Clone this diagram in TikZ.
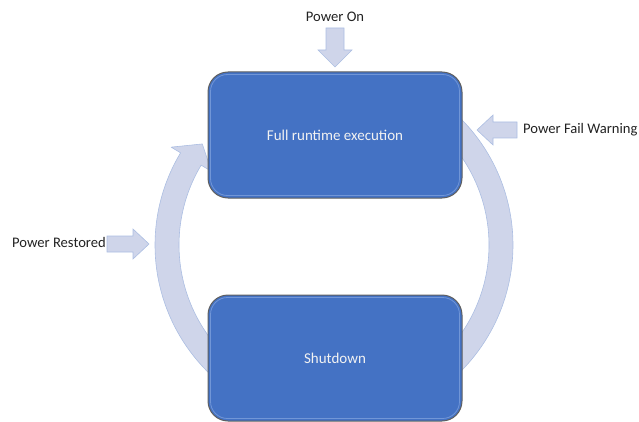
\documentclass[tikz,border=0pt]{standalone}
\usepackage{fontspec}
\setmainfont{Carlito}
\definecolor{ringfill}{RGB}{207,213,234}
\definecolor{ringline}{RGB}{172,190,226}
\definecolor{boxfill}{RGB}{68,114,196}
\definecolor{boxline}{RGB}{95,95,95}
\definecolor{bevel}{RGB}{150,180,232}
\definecolor{labeltext}{RGB}{34,34,34}
\begin{document}
\begin{tikzpicture}[x=1pt,y=-1pt,
  band/.style={fill=ringfill, draw=ringline, line width=0.6pt, line join=round},
  blockarrow/.style={fill=ringfill, draw=ringline, line width=0.6pt, line join=miter},
  statebox/.style={shape=rectangle, rounded corners=20pt, fill=boxfill, draw=boxline,
    line width=1pt, minimum width=254pt, minimum height=126pt, text=white!95!black,
    font=\fontsize{15}{18}\selectfont},
  bevelline/.style={draw=bevel, line width=0.8pt, rounded corners=17pt, opacity=0.55},
  caption/.style={font=\fontsize{14.6}{17}\selectfont, text=labeltext, inner sep=0pt}]
\useasboundingbox (0,0) rectangle (639,422);

% ring: right half (no visible head) and left half ending in an arrow head
\draw[band] plot[domain=-52:52, samples=60] ({334+179*cos(\x)},{245+179*sin(\x)})
  -- plot[domain=52:-52, samples=60] ({334+155*cos(\x)},{245+155*sin(\x)}) -- cycle;
\draw[band] plot[domain=130:211, samples=60] ({334+179*cos(\x)},{245+179*sin(\x)})
  -- ({334+190*cos(211)},{245+190*sin(211)})
  -- ({334+166*cos(217.5)},{245+166*sin(217.5)})
  -- ({334+143*cos(211)},{245+143*sin(211)})
  -- plot[domain=211:130, samples=60] ({334+155*cos(\x)},{245+155*sin(\x)}) -- cycle;

% states
\node[statebox] (run) at (335,135) {Full runtime execution};
\node[statebox] (shut) at (335,358) {Shutdown};
\draw[bevelline] ([shift={(3,3)}]run.north west) rectangle ([shift={(-3,-3)}]run.south east);
\draw[bevelline] ([shift={(3,3)}]shut.north west) rectangle ([shift={(-3,-3)}]shut.south east);

% events
\node[caption] (on) at (335,17) {Power On};
\node[caption, anchor=west] (fail) at (523,130) {Power Fail Warning};
\node[caption, anchor=east] (restored) at (106,242) {Power Restored};

\coordinate (onTip) at (335,67);
\coordinate (failTip) at (477,130);
\coordinate (restoredTip) at (149,244);

\draw[blockarrow] (onTip) -- ++(-17,-17) -- ++(8,0) -- ++(0,-22) -- ++(18,0)
  -- ++(0,22) -- ++(8,0) -- cycle;
\draw[blockarrow] (failTip) -- ++(16,-15) -- ++(0,7) -- ++(24,0) -- ++(0,16)
  -- ++(-24,0) -- ++(0,7) -- cycle;
\draw[blockarrow] (restoredTip) -- ++(-16,-15) -- ++(0,7) -- ++(-26,0) -- ++(0,16)
  -- ++(26,0) -- ++(0,7) -- cycle;
\end{tikzpicture}
\end{document}
